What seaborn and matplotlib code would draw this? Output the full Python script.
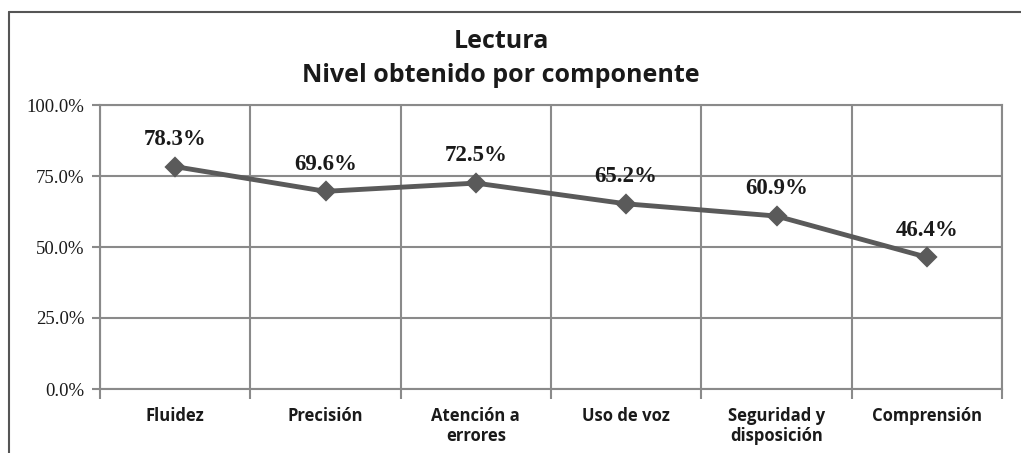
import pandas as pd
import matplotlib
matplotlib.use("Agg")
import matplotlib.pyplot as plt
import seaborn as sns
from matplotlib.ticker import FixedLocator, FuncFormatter
from matplotlib.lines import Line2D

# Data
componentes = ["Fluidez", "Precisión", "Atención a\nerrores", "Uso de voz",
               "Seguridad y\ndisposición", "Comprensión"]
porcentajes = [78.3, 69.6, 72.5, 65.2, 60.9, 46.4]
y_ticks = [0, 25, 50, 75, 100]

df = pd.DataFrame({"componente": componentes, "porcentaje": porcentajes})

sns.set_style("white")
grid_color = "#8a8a8a"
line_color = "#5a5a5a"
text_color = "#1a1a1a"

fig = plt.figure(figsize=(10.21, 4.53), dpi=100)
ax = fig.add_axes([100 / 1021, 64 / 453, 902 / 1021, 284 / 453])

sns.pointplot(data=df, x="componente", y="porcentaje", color=line_color,
              markers="D", markersize=8, linewidth=3.5, ax=ax)

ax.set_xlim(-0.5, len(componentes) - 0.5)
ax.set_ylim(0, 100)

# y axis
ax.yaxis.set_major_locator(FixedLocator(y_ticks))
ax.yaxis.set_major_formatter(FuncFormatter(lambda v, p: f"{v:.1f}%"))
ax.tick_params(axis="y", length=6, width=1.5, color=grid_color, pad=5,
               left=True)
for lbl in ax.get_yticklabels():
    lbl.set_fontfamily("Liberation Serif")
    lbl.set_fontsize(13.5)
    lbl.set_color(text_color)

# x axis: boundaries as minor ticks/gridlines
bounds = [i - 0.5 for i in range(len(componentes) + 1)]
ax.xaxis.set_minor_locator(FixedLocator(bounds))
ax.tick_params(axis="x", which="major", length=0, pad=13)
ax.tick_params(axis="x", which="minor", length=7, width=1.5,
               color=grid_color, bottom=True)
for lbl in ax.get_xticklabels():
    lbl.set_fontfamily("Open Sans")
    lbl.set_fontweight("bold")
    lbl.set_fontsize(12)
    lbl.set_color(text_color)
    lbl.set_verticalalignment("top")
    lbl.set_linespacing(1.15)

ax.grid(axis="y", which="major", color=grid_color, linewidth=1.5)
ax.grid(axis="x", which="minor", color=grid_color, linewidth=1.5)
ax.set_axisbelow(True)
for s in ax.spines.values():
    s.set_color(grid_color)
    s.set_linewidth(1.5)
ax.set_xlabel("")
ax.set_ylabel("")

# data labels
for i, v in enumerate(porcentajes):
    ax.annotate(f"{v:.1f}%", (i, v), xytext=(0, 12), textcoords="offset points",
                ha="center", va="bottom", fontsize=16.5, fontweight="bold",
                fontfamily="Liberation Serif", color=text_color)

# title
fig.text(501 / 1021, 1 - 42 / 453, "Lectura", ha="center", va="center",
         fontsize=18, fontweight="bold", fontfamily="Open Sans", color=text_color)
fig.text(501 / 1021, 1 - 75 / 453, "Nivel obtenido por componente",
         ha="center", va="center", fontsize=18, fontweight="bold",
         fontfamily="Open Sans", color=text_color)

# outer chart border
fig.add_artist(Line2D([9 / 1021, 1], [1 - 12 / 453] * 2, color="#555555",
                      linewidth=1.5, transform=fig.transFigure))
fig.add_artist(Line2D([9 / 1021] * 2, [0, 1 - 12 / 453], color="#555555",
                      linewidth=1.5, transform=fig.transFigure))

fig.savefig("out.png", dpi=100)
